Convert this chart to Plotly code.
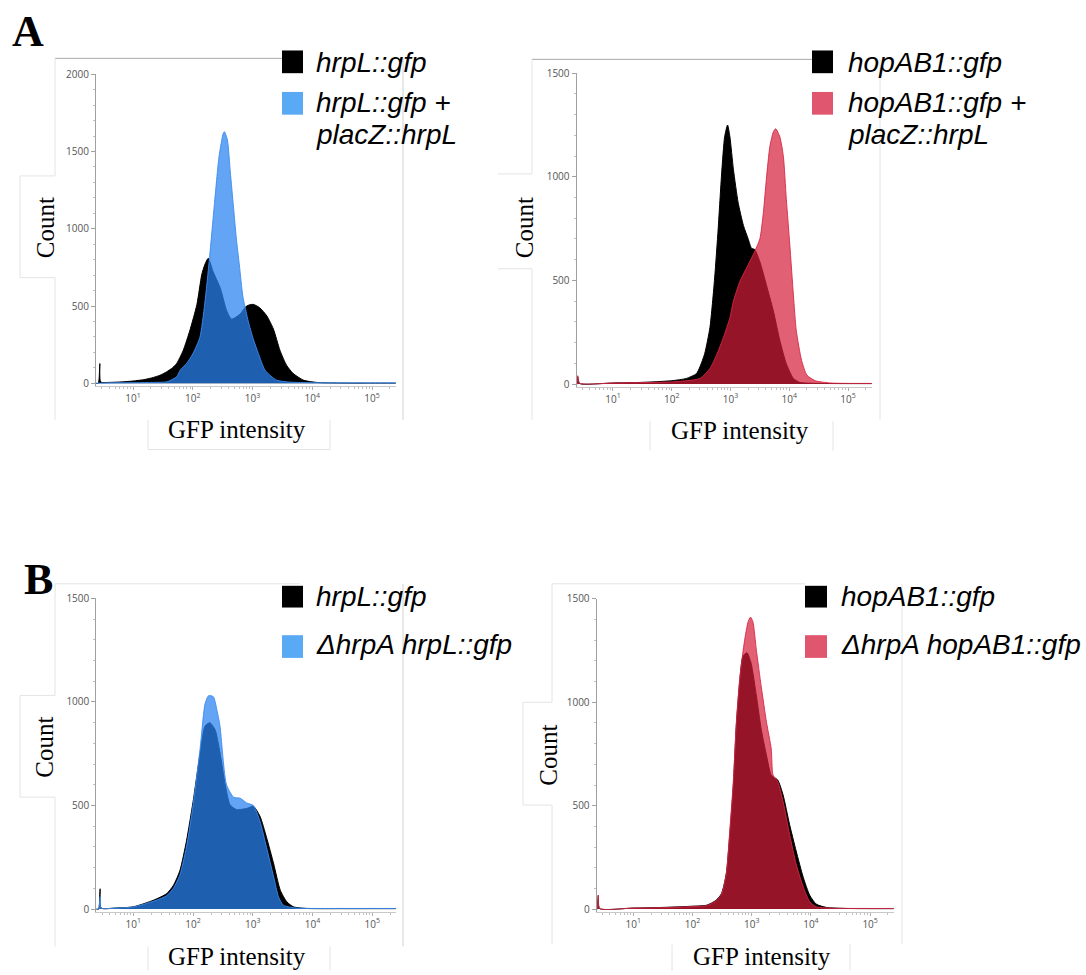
import numpy as np
import plotly.graph_objects as go

W, H = 1086, 975

# ---------------- data (log10 GFP intensity, cell count) ----------------
# Panel A, left: hrpL::gfp vs hrpL::gfp + placZ::hrpL
a1_black_log = [0.38, 0.42, 0.445, 0.46, 0.6, 0.8, 1.0, 1.2, 1.34, 1.45, 1.56, 1.66, 1.73, 1.84, 1.95, 2.07, 2.15, 2.2, 2.26,
                2.34, 2.46, 2.57, 2.65, 2.79, 2.9, 3.01, 3.12, 3.24, 3.35, 3.46, 3.57, 3.68, 3.85, 4.07, 4.5, 5.0, 5.4]
a1_black_cnt = [0, 0, 128, 8, 6, 9, 15, 25, 38, 52, 74, 100, 128, 213, 340, 511, 702, 766, 809,
                723, 617, 468, 415, 447, 500, 511, 489, 436, 351, 213, 117, 64, 21, 6, 2, 1, 1]
a1_color_log = [0.38, 0.6, 1.0, 1.3, 1.57, 1.73, 1.79, 1.9, 2.0, 2.12, 2.2, 2.28, 2.36, 2.44, 2.51, 2.53, 2.58, 2.63, 2.68,
                2.73, 2.78, 2.84, 2.93, 3.01, 3.1, 3.21, 3.4, 3.62, 4.0, 4.5, 5.0, 5.4]
a1_color_cnt = [0, 3, 4, 6, 10, 42, 85, 130, 190, 298, 511, 809, 1149, 1468, 1617, 1628, 1574, 1362, 1149,
                936, 766, 560, 400, 290, 191, 85, 21, 8, 4, 3, 3, 3]

# Panel A, right: hopAB1::gfp vs hopAB1::gfp + placZ::hrpL
a2_black_log = [0.38, 0.39, 0.40, 0.43, 1.0, 1.5, 2.0, 2.25, 2.42, 2.48, 2.56, 2.65, 2.73, 2.79, 2.85, 2.9, 2.95, 2.99,
                3.05, 3.13, 3.22, 3.3, 3.36, 3.41, 3.5, 3.61, 3.73, 3.84, 3.95, 4.07, 4.18, 4.5, 5.0, 5.43]
a2_black_cnt = [0, 0, 35, 3, 5, 8, 16, 27, 50, 83, 146, 273, 511, 749, 1019, 1193, 1250, 1193,
                1035, 876, 765, 701, 654, 650, 590, 479, 352, 210, 98, 27, 8, 3, 2, 2]
a2_color_log = [0.38, 0.39, 0.40, 0.43, 1.0, 1.5, 2.0, 2.48, 2.65, 2.76, 2.88, 2.99, 3.05, 3.16, 3.3, 3.41, 3.5, 3.56,
                3.61, 3.67, 3.73, 3.77, 3.84, 3.9, 3.95, 4.01, 4.07, 4.12, 4.21, 4.3, 4.44, 4.7, 5.0, 5.43]
a2_color_cnt = [0, 0, 40, 4, 5, 7, 10, 27, 75, 138, 225, 320, 400, 495, 575, 638, 701, 829,
                987, 1146, 1217, 1232, 1193, 1098, 892, 670, 432, 257, 114, 43, 16, 5, 3, 3]

# Panel B, left: hrpL::gfp vs ΔhrpA hrpL::gfp
b1_black_log = [0.38, 0.42, 0.445, 0.46, 0.7, 1.0, 1.34, 1.56, 1.67, 1.78, 1.89, 2.0, 2.12, 2.2, 2.28, 2.37, 2.45, 2.54,
                2.62, 2.73, 2.9, 3.01, 3.12, 3.23, 3.35, 3.46, 3.57, 3.68, 3.9, 4.5, 5.0, 5.4]
b1_black_cnt = [0, 0, 98, 5, 5, 11, 43, 75, 114, 186, 329, 518, 756, 883, 900, 865, 756, 598,
                503, 480, 486, 496, 448, 346, 218, 91, 35, 11, 3, 2, 2, 2]
b1_color_log = [0.38, 0.42, 0.445, 0.46, 0.7, 1.0, 1.34, 1.56, 1.67, 1.78, 1.89, 2.0, 2.12, 2.2, 2.26, 2.34, 2.40, 2.45,
                2.56, 2.68, 2.79, 2.9, 3.01, 3.12, 3.23, 3.35, 3.43, 3.51, 3.7, 4.0, 4.5, 5.0, 5.4]
b1_color_cnt = [0, 0, 60, 5, 5, 10, 38, 65, 100, 165, 300, 500, 780, 990, 1030, 1025, 960, 885,
                600, 540, 535, 512, 500, 424, 297, 154, 59, 19, 6, 3, 3, 3, 3]

# Panel B, right: hopAB1::gfp vs ΔhrpA hopAB1::gfp
b2_black_log = [0.38, 0.39, 0.41, 0.43, 1.0, 1.5, 2.0, 2.24, 2.4, 2.49, 2.57, 2.63, 2.69, 2.74, 2.8, 2.85, 2.92, 2.99,
                3.08, 3.16, 3.25, 3.33, 3.44, 3.53, 3.64, 3.75, 3.87, 3.98, 4.09, 4.26, 4.6, 5.0, 5.4]
b2_black_cnt = [0, 0, 67, 3, 5, 8, 14, 19, 43, 75, 170, 361, 600, 887, 1110, 1221, 1240, 1189,
                1030, 871, 743, 648, 624, 552, 409, 282, 154, 67, 24, 8, 3, 2, 2]
b2_color_log = [0.38, 0.39, 0.41, 0.43, 1.0, 1.5, 2.0, 2.24, 2.4, 2.49, 2.57, 2.63, 2.69, 2.74, 2.8, 2.88, 2.94, 2.98,
                3.02, 3.08, 3.16, 3.25, 3.33, 3.36, 3.44, 3.53, 3.64, 3.75, 3.87, 3.98, 4.09, 4.4, 5.0, 5.4]
b2_color_cnt = [0, 0, 67, 3, 5, 7, 12, 17, 40, 72, 170, 380, 620, 900, 1120, 1300, 1390, 1412,
                1390, 1250, 1078, 903, 775, 648, 616, 520, 361, 218, 107, 35, 11, 4, 3, 3]

y_ticks_a1 = [0, 500, 1000, 1500, 2000]
y_ticks_std = [0, 500, 1000, 1500]
x_tick_vals = [1e1, 1e2, 1e3, 1e4, 1e5]
x_tick_text = ["10<sup>1</sup>", "10<sup>2</sup>", "10<sup>3</sup>", "10<sup>4</sup>", "10<sup>5</sup>"]

legend_a1 = ["hrpL::gfp", "hrpL::gfp +", "placZ::hrpL"]
legend_a2 = ["hopAB1::gfp", "hopAB1::gfp +", "placZ::hrpL"]
legend_b1 = ["hrpL::gfp", "ΔhrpA hrpL::gfp"]
legend_b2 = ["hopAB1::gfp", "ΔhrpA hopAB1::gfp"]

# ---------------- styling ----------------
BLUE_FILL = "rgba(41,130,240,0.73)"
BLUE_SWATCH = "#5aa9f5"
RED_FILL = "rgba(214,29,57,0.70)"
RED_SWATCH = "#e0566f"
XR = [0.38, 5.40]

def fx(p):
    return p / W

def fy(p):
    return 1 - p / H

# panel geometry in pixels: p1 (x of 10^1), decade width, y0 pixel, ytop pixel, ytop value
panels = [
    dict(p1=133.0, dec=59.75, y0=380.0, yt=67.0, top=2000, ticks=y_ticks_a1,
         data=(a1_black_log, a1_black_cnt, a1_color_log, a1_color_cnt), fill=BLUE_FILL, line="rgba(60,140,240,0.9)"),
    dict(p1=613.0, dec=58.75, y0=380.7, yt=66.0, top=1500, ticks=y_ticks_std,
         data=(a2_black_log, a2_black_cnt, a2_color_log, a2_color_cnt), fill=RED_FILL, line="rgba(214,40,70,0.9)"),
    dict(p1=133.3, dec=59.75, y0=912.3, yt=597.7, top=1500, ticks=y_ticks_std,
         data=(b1_black_log, b1_black_cnt, b1_color_log, b1_color_cnt), fill=BLUE_FILL, line="rgba(60,140,240,0.9)"),
    dict(p1=633.3, dec=59.2, y0=912.3, yt=598.3, top=1500, ticks=y_ticks_std,
         data=(b2_black_log, b2_black_cnt, b2_color_log, b2_color_cnt), fill=RED_FILL, line="rgba(214,40,70,0.9)"),
]

fig = go.Figure()
layout = dict(width=W, height=H, margin=dict(l=0, r=0, t=0, b=0), autosize=False,
              paper_bgcolor="white", plot_bgcolor="rgba(0,0,0,0)", showlegend=False)

minor_x = [k * 10 ** d for d in range(0, 6) for k in range(2, 10) if 0.38 < np.log10(k * 10 ** d) < 5.4]

for i, p in enumerate(panels, start=1):
    bl, bc, cl, cc = p["data"]
    xs = "x" if i == 1 else f"x{i}"
    ys = "y" if i == 1 else f"y{i}"
    fig.add_trace(go.Scatter(x=10 ** np.array(bl), y=bc, mode="lines", fill="tozeroy",
                             fillcolor="black", line=dict(color="black", width=1, shape="spline", smoothing=0.6),
                             xaxis=xs, yaxis=ys, hoverinfo="skip"))
    fig.add_trace(go.Scatter(x=10 ** np.array(cl), y=cc, mode="lines", fill="tozeroy",
                             fillcolor=p["fill"], line=dict(color=p["line"], width=1, shape="spline", smoothing=0.6),
                             xaxis=xs, yaxis=ys, hoverinfo="skip"))
    left = p["p1"] - (1 - XR[0]) * p["dec"]
    right = p["p1"] + (XR[1] - 1) * p["dec"]
    pad = 0.008 * p["top"]
    ppc = (p["y0"] - p["yt"]) / p["top"]
    ybot = p["y0"] + pad * ppc
    xkey = "xaxis" if i == 1 else f"xaxis{i}"
    ykey = "yaxis" if i == 1 else f"yaxis{i}"
    layout[xkey] = dict(domain=[fx(left), fx(right)], type="log", range=XR, anchor=ys,
                        showgrid=False, zeroline=False, showline=True, linecolor="#c8c8c8", linewidth=1,
                        tickvals=x_tick_vals, ticktext=x_tick_text, ticks="outside", ticklen=3,
                        tickcolor="#b0b0b0", tickfont=dict(family="Open Sans, Arial", size=10, color="#555"),
                        minor=dict(tickvals=minor_x, ticks="outside", ticklen=2, tickcolor="#c0c0c0"))
    layout[ykey] = dict(domain=[fy(ybot), fy(p["yt"])], range=[-pad, p["top"]], anchor=xs,
                        showgrid=False, zeroline=False, showline=True, linecolor="#a0a0a0", linewidth=1,
                        tickvals=p["ticks"], ticks="outside", ticklen=4, tickcolor="#a0a0a0",
                        tickfont=dict(family="Open Sans, Arial", size=10, color="#555"),
                        minor=dict(dtick=100, ticks="outside", ticklen=2, tickcolor="#c0c0c0"))

fig.update_layout(**layout)

# ---------------- decorations ----------------
shapes = []

def seg(x0, y0, x1, y1, color, w=1):
    shapes.append(dict(type="line", xref="paper", yref="paper", x0=fx(x0), y0=fy(y0), x1=fx(x1), y1=fy(y1),
                       line=dict(color=color, width=w), layer="below"))

def swatch(x0, y0, x1, y1, color):
    shapes.append(dict(type="rect", xref="paper", yref="paper", x0=fx(x0), y0=fy(y0), x1=fx(x1), y1=fy(y1),
                       fillcolor=color, line=dict(width=0), layer="above"))

FR = "#a8a8a8"
FAINT = "#e4e4e4"
SIDE = "#d0d0d0"
# A left frame
seg(55, 51, 300, 51, FR); seg(403, 51, 403, 417, SIDE)
seg(55, 51, 55, 170, FAINT); seg(55, 273, 55, 417, FAINT)
seg(20, 170, 55, 170, FAINT); seg(20, 170, 20, 273, FAINT); seg(20, 273, 55, 273, FAINT)
seg(148, 417, 148, 447, FAINT); seg(330, 417, 330, 447, FAINT); seg(148, 447, 330, 447, FAINT)
# A right frame
seg(532, 52, 830, 52, FR); seg(880, 52, 880, 417, FAINT)
seg(532, 52, 532, 168, FAINT); seg(532, 264, 532, 417, FAINT)
seg(498, 168, 532, 168, FAINT); seg(498, 264, 532, 264, FAINT)
seg(650, 418, 650, 448, FAINT); seg(833, 418, 833, 448, FAINT)
# B left frame
seg(55, 583, 300, 583, FAINT); seg(403, 583, 403, 950, SIDE)
seg(55, 583, 55, 696, FAINT); seg(55, 799, 55, 950, FAINT)
seg(20, 696, 55, 696, FAINT); seg(20, 696, 20, 799, FAINT); seg(20, 799, 55, 799, FAINT)
seg(148, 950, 148, 975, FAINT); seg(330, 950, 330, 975, FAINT)
# B right frame
seg(552, 583, 805, 583, FAINT); seg(902, 583, 902, 948, FAINT)
seg(552, 583, 552, 703, FAINT); seg(552, 807, 552, 948, FAINT)
seg(523, 703, 552, 703, FAINT); seg(523, 703, 523, 807, FAINT); seg(523, 807, 552, 807, FAINT)
seg(672, 948, 672, 975, FAINT); seg(850, 948, 850, 975, FAINT)

# legend swatches
swatch(282, 43, 303, 66, "black"); swatch(282, 85, 303, 108, BLUE_SWATCH)
swatch(812, 43, 833, 66, "black"); swatch(812, 85, 833, 108, RED_SWATCH)
swatch(282, 585, 303, 607, "black"); swatch(282, 635, 303, 658, BLUE_SWATCH)
swatch(805, 585, 827, 607, "black"); swatch(805, 635, 827, 658, RED_SWATCH)

ann = []

def text(x, y, s, size, family, color="black", angle=0, xanchor="center", italic=False, bold=False):
    if italic:
        s = f"<i>{s}</i>"
    if bold:
        s = f"<b>{s}</b>"
    ann.append(dict(x=fx(x), y=fy(y), xref="paper", yref="paper", text=s, showarrow=False,
                    xanchor=xanchor, yanchor="middle", textangle=angle,
                    font=dict(family=family, size=size, color=color)))

SERIF = "Liberation Serif, Times New Roman, serif"
SANS = "Liberation Sans, Arial, sans-serif"

text(28, 24, "A", 44, SERIF, bold=True)
text(38, 579, "B", 44, SERIF, bold=True)

for cx, cy in [(45, 223), (524, 223), (45, 749), (549, 757)]:
    text(cx, cy, "Count", 25, SERIF, angle=-90)
for cx, cy in [(237, 427), (740, 428), (237, 960), (762, 960)]:
    text(cx, cy, "GFP intensity", 25, SERIF)

LS = 28
text(314, 55, legend_a1[0], LS, SANS, xanchor="left", italic=True)
text(314, 96, legend_a1[1], LS, SANS, xanchor="left", italic=True)
text(314, 128, legend_a1[2], LS, SANS, xanchor="left", italic=True)
text(846, 55, legend_a2[0], LS, SANS, xanchor="left", italic=True)
text(846, 96, legend_a2[1], LS, SANS, xanchor="left", italic=True)
text(846, 128, legend_a2[2], LS, SANS, xanchor="left", italic=True)
text(314, 596, legend_b1[0], LS, SANS, xanchor="left", italic=True)
text(314, 644, legend_b1[1], LS, SANS, xanchor="left", italic=True)
text(839, 596, legend_b2[0], LS, SANS, xanchor="left", italic=True)
text(839, 644, legend_b2[1], LS, SANS, xanchor="left", italic=True)

fig.update_layout(shapes=shapes, annotations=ann)
fig.write_html("out.html")
